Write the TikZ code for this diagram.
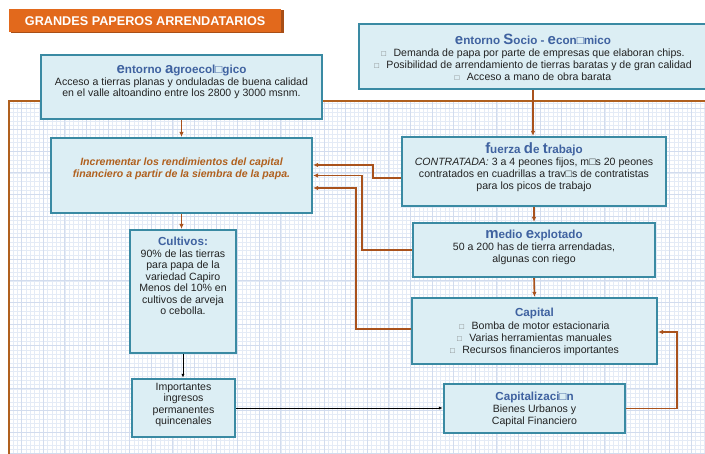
\documentclass[tikz,border=0pt]{standalone}
\usepackage{fontspec}
\setmainfont{Liberation Sans}
\usetikzlibrary{arrows.meta}

\definecolor{boxfill}{HTML}{DCEEF4}
\definecolor{boxline}{HTML}{3A8AA3}
\definecolor{conn}{HTML}{A9521C}
\definecolor{ttlblue}{HTML}{3F62A0}
\definecolor{banner}{HTML}{E2691C}
\definecolor{bannerdk}{HTML}{A84E16}
\definecolor{gridmin}{HTML}{E4EBF6}
\definecolor{gridmaj}{HTML}{D2DCEE}
\definecolor{goal}{HTML}{B0601E}
\definecolor{bodytxt}{HTML}{222222}
\definecolor{bul}{HTML}{777777}

% enlarged initial letter of a heading
\newcommand\Ini[1]{{\fontsize{15}{15}\selectfont #1}}
% heading font
\newcommand\ttl{\color{ttlblue}\bfseries\fontsize{11.7}{12}\selectfont}
% hollow bullet
\newcommand\bul{{\color{bul}\fontsize{8}{8}\selectfont □}\hspace{0.7em}}

% text blocks are placed by the baseline of their last line
\tikzset{
  box/.style={draw=boxline, line width=2.2bp, fill=boxfill, inner sep=0pt},
  txt/.style={anchor=base, align=center, inner sep=0pt, text=bodytxt,
    font=\fontsize{10.6}{11.8}\selectfont},
  link/.style={draw=conn, line width=1.6bp, -{Latex[length=5bp,width=4.5bp]}},
  thin link/.style={draw=black, line width=0.8bp, -{Latex[length=4bp,width=3bp]}},
}

\begin{document}
\begin{tikzpicture}[x=1bp,y=-1bp]
\useasboundingbox (0,0) rectangle (705,454);
\fill[white] (0,0) rectangle (705,454);

% graph-paper background inside the frame
\draw[gridmin, line width=0.5bp, step=4.32bp] (10,102) grid (705,454);
\draw[gridmaj, line width=0.7bp, step=21.6bp] (10,102) grid (705,454);
\draw[goal, line width=2bp] (9,454) -- (9,101) -- (705,101);

% title banner
\fill[bannerdk] (10.5,10.5) rectangle (283.5,33.5);
\node[fill=banner, minimum width=272bp, minimum height=23bp, anchor=north west,
  inner sep=0pt, text=white, font=\bfseries\fontsize{12.7}{13}\selectfont]
  (ban) at (9,9) {GRANDES PAPEROS ARRENDATARIOS};

% boxes
\node[box, minimum width=281bp, minimum height=64bp] (agro) at (181.5,87) {};
\node[box, minimum width=348bp, minimum height=65bp] (socio) at (533,56.5) {};
\node[box, minimum width=261bp, minimum height=75bp] (incr) at (181.5,175.5) {};
\node[box, minimum width=264bp, minimum height=69bp] (fuerza) at (534,171.5) {};
\node[box, minimum width=242bp, minimum height=54bp] (medio) at (534,250) {};
\node[box, minimum width=245bp, minimum height=66bp] (capital) at (534.5,331) {};
\node[box, minimum width=181bp, minimum height=49bp] (capz) at (534.5,408.5) {};
\node[box, minimum width=106bp, minimum height=123bp] (cult) at (183,291.5) {};
\node[box, minimum width=103bp, minimum height=58bp] (ingr) at (183.5,408) {};

% connectors
\draw[link] (agro) -- (incr);
\draw[link] (socio.south -| 533,0) -- (fuerza.north -| 533,0);
\draw[link] (fuerza.south) -- (medio.north);
\draw[link] (medio.south) -- (capital.north);
\draw[link] (incr.south) -- (incr.south |- cult.north);
\draw[thin link] (cult.south) -- (cult.south |- ingr.north);
\draw[thin link] (ingr.east) -- (ingr.east -| capz.west);
\draw[link] (capz.east) -- ++(51,0) |- ([yshift=-1bp]capital.east);
\draw[link] ([yshift=-6.5bp]fuerza.west) -- ++(-28,0) |- ([yshift=10.5bp]incr.east);
\draw[link] (medio.west) -- ++(-50,0) |- (incr.east);
\draw[link] ([yshift=2bp]capital.west) -- ++(-55,0) |- ([yshift=-12.5bp]incr.east);

% texts
\node[txt] (agroT) at (181.5,97) {{\ttl\Ini{e}ntorno \Ini{a}groecol□gico}\\
  Acceso a tierras planas y onduladas de buena calidad\\
  en el valle altoandino entre los 2800 y 3000 msnm.};
\node[txt] (socioT) at (533,80.5) {{\ttl\Ini{e}ntorno \Ini{S}ocio - \Ini{e}con□mico}\\[0.5bp]
  \bul Demanda de papa por parte de empresas que elaboran chips.\\
  \bul Posibilidad de arrendamiento de tierras baratas y de gran calidad\\
  \bul Acceso a mano de obra barata};
\node[txt, text=goal, font=\bfseries\itshape\fontsize{10.6}{11.8}\selectfont] (incrT) at (181.5,177.5)
  {Incrementar los rendimientos del capital\\
   financiero a partir de la siembra de la papa.};
\node[txt] (fuerzaT) at (534,189.5) {{\ttl\Ini{f}uerza \Ini{d}e \Ini{t}rabajo}\\[0.5bp]
  {\itshape CONTRATADA:} 3 a 4 peones fijos, m□s 20 peones\\
  contratados en cuadrillas a trav□s de contratistas\\
  para los picos de trabajo};
\node[txt] (medioT) at (534,262.5) {{\ttl\Ini{m}edio \Ini{e}xplotado}\\[0.5bp]
  50 a 200 has de tierra arrendadas,\\
  algunas con riego};
\node[txt] (capitalT) at (534.5,353) {{\ttl Capital}\\[1bp]
  \bul Bomba de motor estacionaria\\
  \bul Varias herramientas manuales\\
  \bul Recursos financieros importantes};
\node[txt] (capzT) at (534.5,424.5) {{\ttl Capitalizaci□n}\\
  Bienes Urbanos y\\
  Capital Financiero};
\node[txt, font=\fontsize{10.6}{11.5}\selectfont] (cultT) at (183,314.5) {{\ttl Cultivos:}\\
  90\% de las tierras\\
  para papa de la\\
  variedad Capiro\\
  Menos del 10\% en\\
  cultivos de arveja\\
  o cebolla.};
\node[txt, font=\fontsize{10.6}{11.3}\selectfont] (ingrT) at (183.5,424.5) {Importantes\\ ingresos\\ permanentes\\ quincenales};
\end{tikzpicture}
\end{document}
